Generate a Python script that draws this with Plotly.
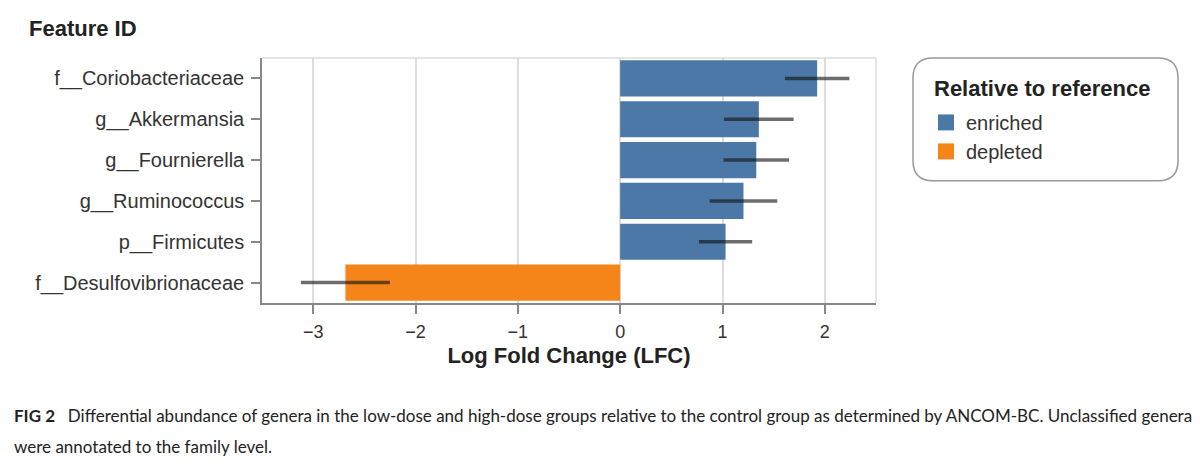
import plotly.graph_objects as go

# ---- data ----
features = ["f__Coriobacteriaceae", "g__Akkermansia", "g__Fournierella",
            "g__Ruminococcus", "p__Firmicutes", "f__Desulfovibrionaceae"]
lfc = [1.925, 1.355, 1.33, 1.205, 1.03, -2.685]
err = [0.315, 0.34, 0.32, 0.33, 0.26, 0.435]
direction = ["enriched", "enriched", "enriched", "enriched", "enriched", "depleted"]
x_ticks = [-3, -2, -1, 0, 1, 2]
x_ticktext = ["\u22123", "\u22122", "\u22121", "0", "1", "2"]
legend_order = ["enriched", "depleted"]
colors = {"enriched": "#4c78a8", "depleted": "#f58518"}

W, H = 1200, 470
L, R, T, B = 262, 876, 58, 303.5

def px(x):
    return (x - L) / (R - L)

def py(y):
    return (B - y) / (B - T)

fig = go.Figure()
for d in legend_order:
    idx = [i for i, v in enumerate(direction) if v == d]
    fig.add_trace(go.Bar(
        y=[features[i] for i in idx],
        x=[lfc[i] for i in idx],
        orientation="h",
        name=d,
        showlegend=False,
        marker=dict(color=colors[d], line=dict(width=0)),
        error_x=dict(type="data", array=[err[i] for i in idx], symmetric=True,
                     thickness=3.5, width=0, color="rgba(20,20,20,0.62)"),
    ))
# legend proxies (square swatches)
for d in legend_order:
    fig.add_trace(go.Scatter(
        x=[None], y=[None], mode="markers", name=d,
        marker=dict(symbol="square", size=19, color=colors[d]),
        showlegend=True,
    ))

font_main = "Liberation Sans, Arial, sans-serif"

fig.update_layout(
    width=W, height=H,
    margin=dict(l=L, r=W - R, t=T, b=H - B),
    paper_bgcolor="white", plot_bgcolor="white",
    barmode="relative", bargap=0.115,
    font=dict(family=font_main, color="#333", size=18),
    xaxis=dict(range=[-3.5, 2.5], tickvals=x_ticks, ticktext=x_ticktext,
               showgrid=True, gridcolor="#dddddd", gridwidth=1.5,
               zeroline=False, showline=True, linecolor="#888", linewidth=1.5,
               ticks="outside", ticklen=9, tickcolor="#888", tickwidth=1.5,
               tickfont=dict(size=18, color="#333"), ticklabelstandoff=3,
               title=dict(text="<b>Log Fold Change (LFC)</b>",
                          font=dict(size=22, color="#222"), standoff=6)),
    yaxis=dict(categoryorder="array", categoryarray=features,
               autorange="reversed", showgrid=False, zeroline=False,
               showline=True, linecolor="#888", linewidth=1.5,
               ticks="outside", ticklen=9, tickcolor="#888", tickwidth=1.5,
               tickfont=dict(size=20, color="#333"), ticklabelstandoff=3),
    legend=dict(x=px(926), y=py(103), xanchor="left", yanchor="top",
                bgcolor="rgba(0,0,0,0)", borderwidth=0,
                font=dict(size=20, color="#333"), traceorder="normal",
                itemsizing="trace", tracegroupgap=0),
    showlegend=True,
)

# top/right view border
fig.add_shape(type="line", xref="paper", yref="paper", x0=0, x1=1, y0=1, y1=1,
              line=dict(color="#dddddd", width=1.5), layer="below")
fig.add_shape(type="line", xref="paper", yref="paper", x0=1, x1=1, y0=0, y1=1,
              line=dict(color="#dddddd", width=1.5), layer="below")

# rounded legend box
x0, x1, y0, y1, r = 913, 1178, 58, 181, 20
path = (f"M {px(x0 + r)},{py(y0)} L {px(x1 - r)},{py(y0)} "
        f"Q {px(x1)},{py(y0)} {px(x1)},{py(y0 + r)} "
        f"L {px(x1)},{py(y1 - r)} Q {px(x1)},{py(y1)} {px(x1 - r)},{py(y1)} "
        f"L {px(x0 + r)},{py(y1)} Q {px(x0)},{py(y1)} {px(x0)},{py(y1 - r)} "
        f"L {px(x0)},{py(y0 + r)} Q {px(x0)},{py(y0)} {px(x0 + r)},{py(y0)} Z")
fig.add_shape(type="path", xref="paper", yref="paper", path=path,
              line=dict(color="#999", width=1.5), fillcolor="rgba(0,0,0,0)")

# legend title
fig.add_annotation(text="<b>Relative to reference</b>", xref="paper", yref="paper",
                   x=px(932), y=py(89), xanchor="left", yanchor="middle",
                   showarrow=False, font=dict(size=22, color="#222"))

# y axis title
fig.add_annotation(text="<b>Feature ID</b>", xref="paper", yref="paper",
                   x=px(27), y=py(28), xanchor="left", yanchor="middle",
                   showarrow=False, font=dict(size=22, color="#222"))

# caption
cap_font = "Lato, Noto Sans, sans-serif"
fig.add_annotation(
    text="<b>FIG 2</b>\u2002 Differential abundance of genera in the low-dose and high-dose groups relative to the control group as determined by ANCOM-BC. Unclassified genera",
    xref="paper", yref="paper", x=px(12), y=py(416), xanchor="left", yanchor="middle",
    showarrow=False, font=dict(size=17, color="#222", family=cap_font))
fig.add_annotation(
    text="were annotated to the family level.",
    xref="paper", yref="paper", x=px(12), y=py(447), xanchor="left", yanchor="middle",
    showarrow=False, font=dict(size=17, color="#222", family=cap_font))

fig.write_html("out.html")
